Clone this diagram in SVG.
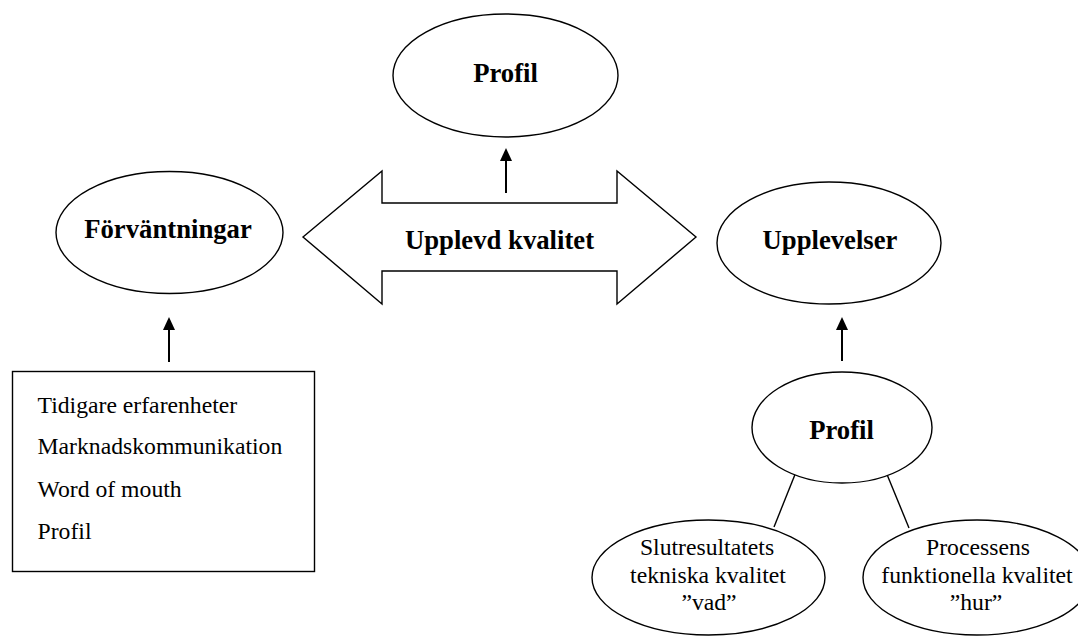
<svg xmlns="http://www.w3.org/2000/svg" width="1078" height="637" viewBox="0 0 1078 637">
<style>
.shape{fill:#fff;stroke:#000;stroke-width:1.4}
.bold{font-family:"Liberation Serif","Times New Roman",serif;font-weight:bold;font-size:26.7px;fill:#000;text-anchor:middle}
.reg{font-family:"Liberation Serif","Times New Roman",serif;font-size:23.7px;fill:#000}
.mid{text-anchor:middle}
.arr{stroke:#000;stroke-width:2;fill:none}
.thin{stroke:#000;stroke-width:1.4;fill:none}
</style>
<defs>
<marker id="ah" markerUnits="userSpaceOnUse" markerWidth="14" markerHeight="12" refX="3" refY="6" orient="auto">
<path d="M0,0 L13,6 L0,12 z" fill="#000"/>
</marker>
</defs>
<rect width="1078" height="637" fill="#fff"/>
<g id="connectors">
<line class="arr" x1="169" y1="362" x2="169" y2="327" marker-end="url(#ah)"/>
<line class="arr" x1="506" y1="193" x2="506" y2="158" marker-end="url(#ah)"/>
<line class="arr" x1="842" y1="361" x2="842" y2="327" marker-end="url(#ah)"/>
<line class="thin" x1="796" y1="472" x2="774" y2="527"/>
<line class="thin" x1="886" y1="472" x2="909" y2="528"/>
</g>
<g id="profil-top">
<ellipse class="shape" cx="505.5" cy="75.5" rx="112.5" ry="61.5"/>
<text class="bold" x="505.5" y="82">Profil</text>
</g>
<g id="forvantningar">
<ellipse class="shape" cx="169.5" cy="232.5" rx="113.5" ry="61"/>
<text class="bold" x="168" y="238">Förväntningar</text>
</g>
<g id="upplevd-kvalitet">
<polygon class="shape" points="303,237 382,171 382,203 617,203 617,171 696,237 617,304 617,271 382,271 382,304"/>
<text class="bold" x="499.5" y="249">Upplevd kvalitet</text>
</g>
<g id="upplevelser">
<ellipse class="shape" cx="829" cy="243" rx="112" ry="61"/>
<text class="bold" x="830" y="249">Upplevelser</text>
</g>
<g id="faktorer">
<rect class="shape" x="12.5" y="371.5" width="302" height="200"/>
<text class="reg" x="37.5" y="412.5">Tidigare erfarenheter</text>
<text class="reg" x="37.5" y="454">Marknadskommunikation</text>
<text class="reg" x="37.5" y="496.5">Word of mouth</text>
<text class="reg" x="37.5" y="539">Profil</text>
</g>
<g id="profil-bottom">
<ellipse class="shape" cx="842" cy="427.5" rx="90" ry="55.5"/>
<text class="bold" x="841.5" y="439">Profil</text>
</g>
<g id="slutresultatets">
<ellipse class="shape" cx="708.5" cy="577.5" rx="116.5" ry="57.5"/>
<text class="reg mid" x="707" y="555">Slutresultatets</text>
<text class="reg mid" x="708" y="583">tekniska kvalitet</text>
<text class="reg mid" x="709" y="610">”vad”</text>
</g>
<g id="processens">
<ellipse class="shape" cx="977" cy="577.5" rx="114" ry="57.5"/>
<text class="reg mid" x="978" y="555">Processens</text>
<text class="reg mid" x="977" y="583">funktionella kvalitet</text>
<text class="reg mid" x="976" y="610">”hur”</text>
</g>
</svg>
